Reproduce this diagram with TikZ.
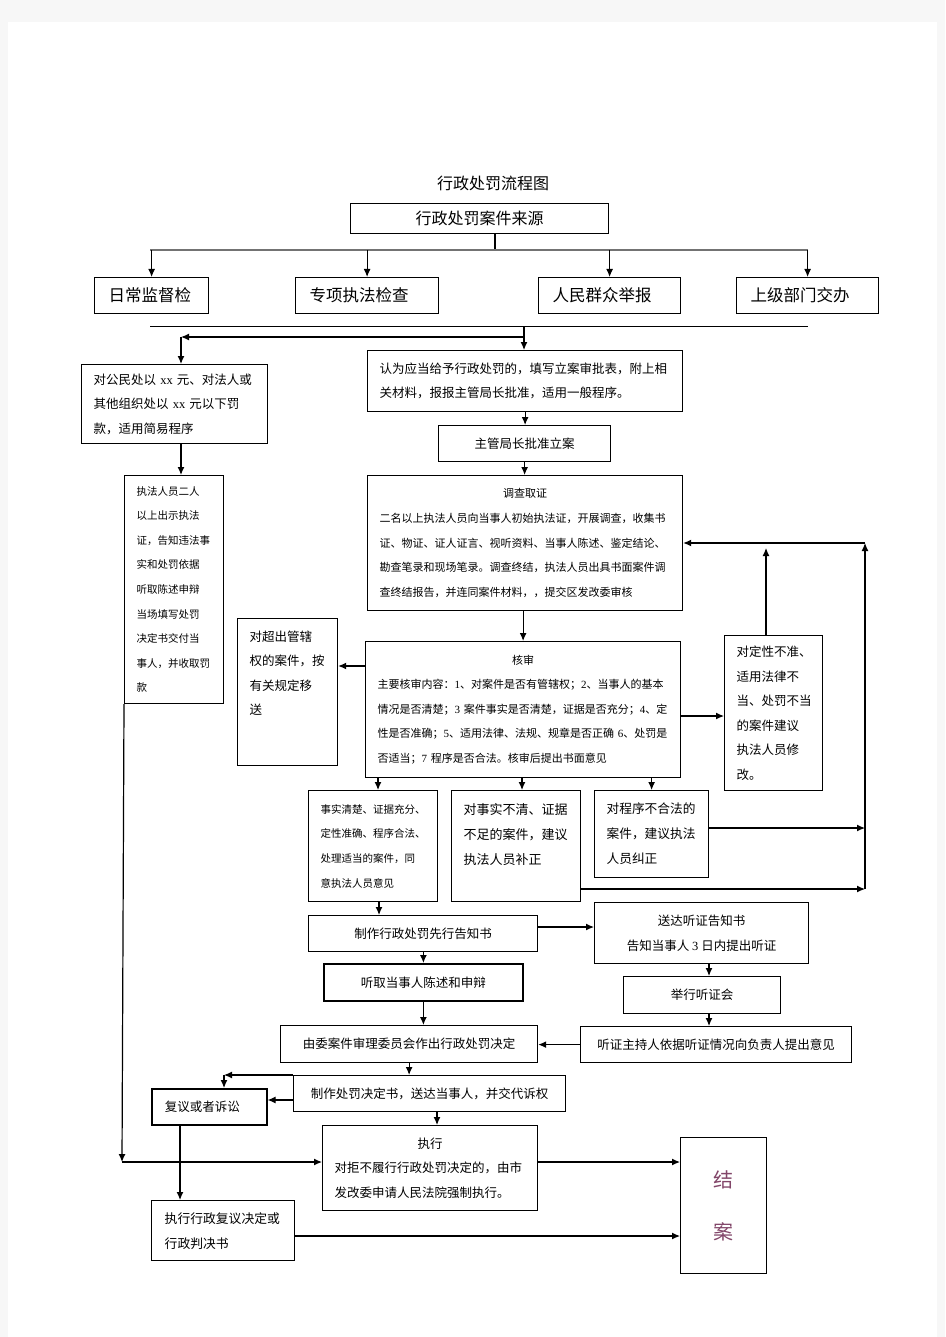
\documentclass[tikz,border=0pt]{standalone}
\usepackage{fontspec}
\setmainfont{Noto Sans CJK SC}
\newfontfamily\tnr{Liberation Serif}
\usetikzlibrary{arrows.meta}
\begin{document}
\begin{tikzpicture}[>={Latex[length=8pt,width=7pt]}, x=1pt, y=-1pt,
    box/.style={draw, line width=1.2pt, anchor=north west, inner sep=0pt, font=\fontsize{12.5}{24.5}\selectfont},
    para/.style={box, align=left, inner xsep=12pt},
    link/.style={->, line width=1.2pt}]
        \useasboundingbox (0,0) rectangle (945,1337);
        \fill[gray!6] (0,0) rectangle (945,1337);
        \fill[white] (8,22) rectangle (937,1337);

        \node[font=\fontsize{16}{16}\selectfont] (title) at (493,183) {行政处罚流程图};
        \node[box, minimum width=258, minimum height=30, font=\fontsize{16}{16}\selectfont] (src) at (350,203) {行政处罚案件来源};

        \node[para, inner xsep=14pt, text width=86, minimum width=114, minimum height=36, font=\fontsize{16.5}{20}\selectfont] (daily) at (94,277) {日常监督检};
        \node[para, inner xsep=14pt, text width=115, minimum width=143, minimum height=36, font=\fontsize{16.5}{20}\selectfont] (special) at (295,277) {专项执法检查};
        \node[para, inner xsep=14pt, text width=114, minimum width=142, minimum height=36, font=\fontsize{16.5}{20}\selectfont] (report) at (538,277) {人民群众举报};
        \node[para, inner xsep=14pt, text width=114, minimum width=142, minimum height=36, font=\fontsize{16.5}{20}\selectfont] (upper) at (736,277) {上级部门交办};

        \node[para, text width=162, minimum width=186, minimum height=79] (simple) at (81,364) {对公民处以 {\tnr xx} 元、对法人或\\其他组织处以 {\tnr xx} 元以下罚\\款，适用简易程序};
        \node[para, text width=291, minimum width=315, minimum height=61] (gen) at (367,350) {认为应当给予行政处罚的，填写立案审批表，附上相\\关材料，报报主管局长批准，适用一般程序。};
        \node[box, minimum width=172, minimum height=36] (approve) at (438,425) {主管局长批准立案};
        \node[para, text width=291, minimum width=315, minimum height=135, font=\fontsize{11}{24.6}\selectfont] (survey) at (367,475) {\hfill 调查取证\hfill\mbox{}\\二名以上执法人员向当事人初始执法证，开展调查，收集书\\证、物证、证人证言、视听资料、当事人陈述、鉴定结论、\\勘查笔录和现场笔录。调查终结，执法人员出具书面案件调\\查终结报告，并连同案件材料，，提交区发改委审核};
        \node[para, text width=75, minimum width=99, minimum height=228, font=\fontsize{10.5}{24.6}\selectfont] (staff) at (124,475) {执法人员二人\\以上出示执法\\证，告知违法事\\实和处罚依据\\听取陈述申辩\\当场填写处罚\\决定书交付当\\事人，并收取罚\\款};
        \node[para, text width=76, minimum width=100, minimum height=147] (transfer) at (237,618) {对超出管辖\\权的案件，按\\有关规定移\\送\\[14pt]\mbox{}};
        \node[para, text width=291, minimum width=315, minimum height=136, font=\fontsize{11}{24.5}\selectfont] (review) at (365,641) {\hfill 核审\hfill\mbox{}\\主要核审内容：{\tnr 1}、对案件是否有管辖权；{\tnr 2}、当事人的基本\\情况是否清楚；{\tnr 3} 案件事实是否清楚，证据是否充分；{\tnr 4}、定\\性是否准确；{\tnr 5}、适用法律、法规、规章是否正确 {\tnr 6}、处罚是\\否适当；{\tnr 7} 程序是否合法。核审后提出书面意见};
        \node[para, text width=74, minimum width=98, minimum height=155] (wrong) at (724,635) {对定性不准、\\适用法律不\\当、处罚不当\\的案件建议\\执法人员修\\改。};

        \node[para, text width=105, minimum width=129, minimum height=111, font=\fontsize{10.5}{24.7}\selectfont] (ok) at (308,790) {事实清楚、证据充分、\\定性准确、程序合法、\\处理适当的案件，同\\意执法人员意见};
        \node[para, text width=105, minimum width=129, minimum height=111, font=\fontsize{13}{25}\selectfont] (lack) at (451,790) {对事实不清、证据\\不足的案件，建议\\执法人员补正\\\mbox{}};
        \node[para, text width=90, minimum width=114, minimum height=87, font=\fontsize{12.7}{25}\selectfont] (proc) at (594,790) {对程序不合法的\\案件，建议执法\\人员纠正};

        \node[box, minimum width=229, minimum height=36] (notice) at (308,915) {制作行政处罚先行告知书};
        \node[box, align=center, minimum width=214, minimum height=61, font=\fontsize{12.5}{25}\selectfont] (hearnote) at (594,902) {送达听证告知书\\告知当事人 {\tnr 3} 日内提出听证};
        \node[box, line width=1.8pt, minimum width=199, minimum height=37] (plea) at (323,963) {听取当事人陈述和申辩};
        \node[box, minimum width=157, minimum height=37] (hold) at (623,976) {举行听证会};
        \node[box, minimum width=271, minimum height=36] (host) at (580,1026) {听证主持人依据听证情况向负责人提出意见};
        \node[box, minimum width=257, minimum height=37] (decide) at (280,1025) {由委案件审理委员会作出行政处罚决定};
        \node[box, minimum width=272, minimum height=36] (issue) at (293,1075) {制作处罚决定书，送达当事人，并交代诉权};
        \node[para, line width=1.6pt, inner xsep=13pt, text width=89, minimum width=115, minimum height=36] (appeal) at (151,1088) {复议或者诉讼};
        \node[para, line width=1.4pt, text width=191, minimum width=215, minimum height=85] (exec) at (322,1125) {\hfill 执行\hfill\mbox{}\\对拒不履行行政处罚决定的，由市\\发改委申请人民法院强制执行。};
        \node[para, line width=1.4pt, inner xsep=13pt, text width=117, minimum width=143, minimum height=60, font=\fontsize{12.8}{25}\selectfont] (court) at (151,1200) {执行行政复议决定或\\行政判决书};
        \node[box, align=center, minimum width=86, minimum height=136, font=\fontsize{20}{52}\selectfont, text={rgb,255:red,130;green,70;blue,105}] (close) at (680,1137) {结\\案};

        \coordinate (busL) at (150,250);
        \coordinate (busR) at (808,250);
        \coordinate (fork) at (495,250);
        \coordinate (sepL) at (150,326);
        \coordinate (sepR) at (808,326);
        \coordinate (split) at (524,326);
        \coordinate (turn) at (181,337);
        \coordinate (loopTop) at (865,543);
        \coordinate (loopBot) at (865,889);
        \coordinate (wrongUp) at (766,548);
        \coordinate (apTurn) at (224,1075);
        \coordinate (leftDown) at (122,1162);

        \draw[line width=1.2pt] (src.south -| fork) -- (fork);
        \draw[line width=1.4pt, black!55] (busL) -- (busR);
        \draw[link] (daily.north |- busL) -- (daily.north);
        \draw[link] (special.north |- busL) -- (special.north);
        \draw[link] (report.north |- busL) -- (report.north);
        \draw[link] (upper.north |- busL) -- (upper.north);
        \draw[line width=0.9pt] (sepL) -- (sepR);
        \draw[link] (split) -- (gen.north -| split);
        \draw[link] (split |- turn) -- (turn);
        \draw[link] (turn) -- (simple.north -| turn);
        \draw[link] (simple.south -| turn) -- (staff.north -| turn);
        \draw[link] (gen.south) -- (approve.north -| gen.south);
        \draw[link] (approve.south) -- (survey.north -| approve.south);
        \draw[link] (survey.south -| review.north) -- (review.north);
        \draw[link] (review.west |- 0,666) -- (transfer.east |- 0,666);
        \draw[link] (review.east |- 0,716) -- (wrong.west |- 0,716);
        \draw[link] (wrong.north -| wrongUp) -- (wrongUp);
        \draw[link] (loopBot) -- (loopTop);
        \draw[link] (loopTop) -- (survey.east |- loopTop);
        \draw[link] (review.south -| 378,0) -- (ok.north -| 378,0);
        \draw[link] (review.south -| 522,0) -- (lack.north -| 522,0);
        \draw[link] (review.south -| proc.north) -- (proc.north);
        \draw[link] (proc.east |- 0,828) -- (loopTop |- 0,828);
        \draw[link] (lack.east |- loopBot) -- (loopBot);
        \draw[link] (ok.south -| 379,0) -- (notice.north -| 379,0);
        \draw[link] (notice.east |- 0,927) -- (hearnote.west |- 0,927);
        \draw[link] (notice.south -| plea.north) -- (plea.north);
        \draw[link] (hearnote.south -| 709,0) -- (hold.north -| 709,0);
        \draw[link] (hold.south -| 709,0) -- (host.north -| 709,0);
        \draw[link] (host.west) -- (decide.east |- host.west);
        \draw[link] (plea.south) -- (decide.north -| plea.south);
        \draw[link] (decide.south) -- (issue.north -| decide.south);
        \draw[link] (issue.north west) -- (apTurn);
        \draw[link] (apTurn) -- (appeal.north -| apTurn);
        \draw[link] (issue.west |- 0,1100) -- (appeal.east |- 0,1100);
        \draw[link] (issue.south -| 437,0) -- (exec.north -| 437,0);
        \draw[link] (appeal.south -| 180,0) -- (court.north -| 180,0);
        \draw[link] (staff.south west) -- (leftDown);
        \draw[link] (leftDown) -- (exec.west |- leftDown);
        \draw[link] (exec.east |- leftDown) -- (close.west |- leftDown);
        \draw[link] (court.east |- 0,1236) -- (close.west |- 0,1236);
    \end{tikzpicture}
\end{document}
